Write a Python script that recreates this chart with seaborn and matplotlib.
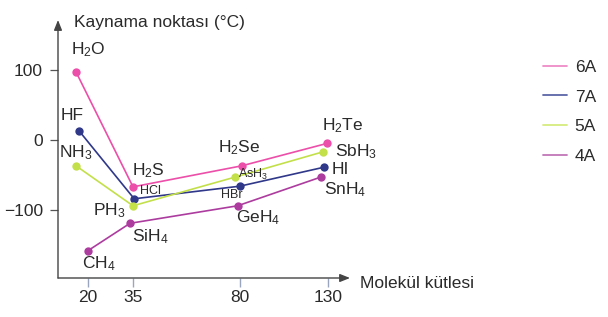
import numpy as np
import pandas as pd
import matplotlib
matplotlib.use("Agg")
import matplotlib.pyplot as plt
from matplotlib.lines import Line2D
import seaborn as sns

# ---- data ----
groups = ["6A", "7A", "5A", "4A"]
names_6A = ["H$_2$O", "H$_2$S", "H$_2$Se", "H$_2$Te"]
mass_6A = [16, 35, 81, 129.5]
bp_6A = [97, -67, -37, -5]

names_7A = ["HF", "HCl", "HBr", "HI"]
mass_7A = [17, 35.5, 80, 127.7]
bp_7A = [13, -84, -66, -39]

names_5A = ["NH$_3$", "PH$_3$", "AsH$_3$", "SbH$_3$"]
mass_5A = [16, 35, 78, 127.2]
bp_5A = [-37, -94, -53, -17]

names_4A = ["CH$_4$", "SiH$_4$", "GeH$_4$", "SnH$_4$"]
mass_4A = [20, 34, 79, 126]
bp_4A = [-158, -119, -94, -53]

x_ticks = [20, 35, 80, 130]
y_ticks = [100, 0, -100]

colors = {"6A": "#ec4fa9", "7A": "#2f3889", "5A": "#c3e04a", "4A": "#ad3c9f"}
legend_colors = {"6A": "#ee8cc8", "7A": "#5d66a8", "5A": "#d6ec7e", "4A": "#c076b8"}

frames = []
for g, n, m, b in [("6A", names_6A, mass_6A, bp_6A), ("7A", names_7A, mass_7A, bp_7A),
                   ("5A", names_5A, mass_5A, bp_5A), ("4A", names_4A, mass_4A, bp_4A)]:
    frames.append(pd.DataFrame({"group": g, "name": n, "mass": m, "bp": b}))
df = pd.concat(frames, ignore_index=True)

BIG, SMALL = 12.5, 9
# label offsets in pixels (dx, dy) and size
label_style = {
    "H$_2$O": (12, 22, BIG), "H$_2$S": (15, 16, BIG), "H$_2$Se": (-3, 18, BIG), "H$_2$Te": (16, 18, BIG),
    "HF": (-7, 15, BIG), "HCl": (16, 8, SMALL), "HBr": (-8, -9, SMALL), "HI": (16, -2, BIG),
    "NH$_3$": (0, 13, BIG), "PH$_3$": (-24, -5, BIG), "AsH$_3$": (18, 3, SMALL), "SbH$_3$": (33, 0, BIG),
    "CH$_4$": (11, -13, BIG), "SiH$_4$": (20, -13, BIG), "GeH$_4$": (21, -12, BIG), "SnH$_4$": (24, -13, BIG),
}

# ---- style ----
sns.set_theme(style="white")
plt.rcParams["font.family"] = ["Liberation Sans", "DejaVu Sans"]
plt.rcParams["mathtext.fontset"] = "custom"
plt.rcParams["mathtext.rm"] = "Liberation Sans"
plt.rcParams["mathtext.default"] = "regular"

W, H = 608, 317
fig = plt.figure(figsize=(W / 100, H / 100), dpi=100)
ax = fig.add_axes([58 / W, (H - 278) / H, (350 - 58) / W, (278 - 20) / H])

# nonlinear (hand-drawn) x scale: piecewise linear through the tick marks
XK = np.array([20.0, 35.0, 80.0, 130.0])
PK = np.array([88.0, 133.0, 240.0, 328.0])
s_lo = (PK[1] - PK[0]) / (XK[1] - XK[0])
s_hi = (PK[3] - PK[2]) / (XK[3] - XK[2])

def fwd(x):
    x = np.asarray(x, dtype=float)
    y = np.interp(x, XK, PK)
    y = np.where(x < XK[0], PK[0] + (x - XK[0]) * s_lo, y)
    y = np.where(x > XK[-1], PK[-1] + (x - XK[-1]) * s_hi, y)
    return y

def inv(p):
    p = np.asarray(p, dtype=float)
    x = np.interp(p, PK, XK)
    x = np.where(p < PK[0], XK[0] + (p - PK[0]) / s_lo, x)
    x = np.where(p > PK[-1], XK[-1] + (p - PK[-1]) / s_hi, x)
    return x

ax.set_xscale("function", functions=(fwd, inv))

sns.lineplot(data=df, x="mass", y="bp", hue="group", hue_order=groups,
             palette=colors, sort=False, estimator=None, marker="o",
             markersize=6, markeredgewidth=0, linewidth=1.2, ax=ax, legend=False)

for _, r in df.iterrows():
    dx, dy, fs = label_style[r["name"]]
    ax.annotate(r["name"], (r["mass"], r["bp"]), xytext=(dx, dy), textcoords="offset pixels",
                ha="center", va="center", fontsize=fs, color="#2a2a2a")

ax.set_xlim(inv(58.0), inv(350.0))
ax.set_ylim(-197, 171)
ax.set_xticks(x_ticks)
ax.set_xticklabels([str(t) for t in x_ticks])
ax.set_yticks(y_ticks)
ax.set_yticklabels(["100", "0", "\u2212100"])
ax.xaxis.set_minor_locator(matplotlib.ticker.NullLocator())
ax.tick_params(axis="y", length=5.8, width=0.9, color="#555555", pad=5, labelsize=BIG,
               labelcolor="#2a2a2a", left=True)
ax.tick_params(axis="x", length=6.5, width=1.0, color="#9aa6c0", pad=2.5, labelsize=BIG,
               labelcolor="#2a2a2a", bottom=True)
ax.set_xlabel("")
ax.set_ylabel("")

for s in ax.spines.values():
    s.set_visible(False)

arrow_kw = dict(arrowstyle="-|>,head_length=0.5,head_width=0.2", color="#444444", lw=1.0,
                shrinkA=0, shrinkB=0)
ax.annotate("", xy=(1, 0), xytext=(0, 0), xycoords="axes fraction", textcoords="axes fraction",
            arrowprops=arrow_kw, annotation_clip=False)
ax.annotate("", xy=(0, 1), xytext=(0, 0), xycoords="axes fraction", textcoords="axes fraction",
            arrowprops=arrow_kw, annotation_clip=False)

fig.text(74 / W, 1 - 22 / H, "Kaynama noktası (°C)", ha="left", va="center", fontsize=BIG, color="#2a2a2a")
fig.text(360 / W, 1 - 283 / H, "Molekül kütlesi", ha="left", va="center", fontsize=BIG, color="#2a2a2a")

handles = [Line2D([0], [0], color=legend_colors[g], lw=1.3) for g in groups]
fig.legend(handles, groups, loc="upper left", bbox_to_anchor=(527 / W, 1 - 44 / H),
           frameon=False, fontsize=BIG, handlelength=1.4, handletextpad=0.45,
           labelspacing=0.84, labelcolor="#2a2a2a")

fig.savefig("out.png", dpi=100)
